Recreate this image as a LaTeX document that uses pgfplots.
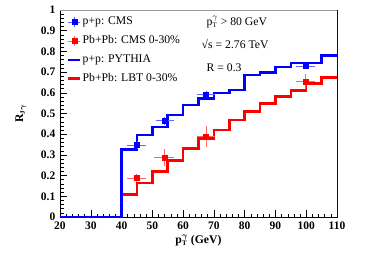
\documentclass[border=0pt]{standalone}
\usepackage{bm}
\usepackage{pgfplots}
\pgfplotsset{compat=1.18}
\usepackage{fontspec}
\setmainfont{Liberation Serif}
\definecolor{rblue}{RGB}{0,0,255}
\definecolor{rred}{RGB}{255,0,0}
\begin{document}
\begin{tikzpicture}
\begin{axis}[
  width=277pt, height=207pt, scale only axis,
  xmin=20, xmax=110, ymin=0, ymax=1,
  xtick={20,30,...,110}, ytick={0,0.1,...,1.0},
  minor x tick num=4, minor y tick num=4,
  tick align=inside, tick pos=left,
  major tick length=7pt, minor tick length=3.5pt,
  tick style={black, line width=0.5pt},
  axis line style={black, line width=0.7pt},
  /pgf/number format/assume math mode=true,
  /pgf/number format/fixed, /pgf/number format/precision=1,
  ticklabel style={font=\fontsize{11.5}{13}\selectfont\bfseries, inner sep=0.5pt},
  xticklabel style={yshift=-4.5pt},
  yticklabel style={xshift=-4pt},
  xlabel={\bfseries p$_{\mbox{\scriptsize\bfseries T}}^{\bm{\gamma}}$ (GeV)},
  ylabel={\bfseries R$_{\mbox{\scriptsize\bfseries J}\bm{\gamma}}$},
  label style={font=\fontsize{11.7}{13}\selectfont},
  xlabel style={at={(axis description cs:0.5,0)}, anchor=north, yshift=-14pt},
  ylabel style={at={(axis description cs:0,0.5)}, anchor=south, yshift=30pt},
  legend style={at={(axis cs:21.3,0.982)}, anchor=north west, draw=none, fill=none,
    font=\fontsize{11.7}{13}\selectfont, row sep=6.3pt,
    nodes={inner sep=1pt, anchor=west, text height=8pt, text depth=2.5pt}},
  legend cell align=left,
]
% legend
\addlegendimage{legend image code/.code={
  \draw[rblue!60, line width=0.6pt] (0pt,0pt)--(12pt,0pt) (6pt,-5pt)--(6pt,5pt);
  \fill[rblue] (3.5pt,-2.5pt) rectangle (8.5pt,2.5pt);}}
\addlegendentry{p+p: CMS}
\addlegendimage{legend image code/.code={
  \draw[rred!60, line width=0.6pt] (0pt,0pt)--(12pt,0pt) (6pt,-5pt)--(6pt,5pt);
  \fill[rred] (3.5pt,-2.5pt) rectangle (8.5pt,2.5pt);}}
\addlegendentry{Pb+Pb: CMS 0-30\%}
\addlegendimage{legend image code/.code={\draw[rblue, line width=2.5pt] (0pt,0pt)--(12pt,0pt);}}
\addlegendentry{p+p: PYTHIA}
\addlegendimage{legend image code/.code={\draw[rred, line width=2.5pt] (0pt,0pt)--(12pt,0pt);}}
\addlegendentry{Pb+Pb: LBT 0-30\%}

% LBT
\addplot[forget plot, rred, line width=2.5pt, const plot mark left] coordinates {
(20,0) (40,0.108) (45,0.165) (50,0.221) (55,0.272) (60,0.332) (65,0.380) (70,0.420)
(75,0.469) (80,0.509) (85,0.549) (90,0.581) (95,0.611) (100,0.646) (105,0.673) (110,0.673)};
% PYTHIA
\addplot[forget plot, rblue, line width=2.5pt, const plot mark left] coordinates {
(20,0) (40,0.325) (45,0.395) (50,0.435) (55,0.493) (60,0.541) (65,0.573) (70,0.598)
(75,0.614) (80,0.686) (85,0.699) (90,0.725) (95,0.743) (100,0.745) (105,0.780) (110,0.780)};

% CMS pp
\addplot[forget plot, only marks, mark=square*, mark size=2.5pt, color=rblue,
  error bars/.cd, x dir=both, x explicit, y dir=both, y explicit,
  error mark=none, error bar style={rblue!60, line width=0.6pt}] coordinates {
(45.0,0.347) +- (3.1,0.02)
(54.0,0.465) +- (2.9,0.02)
(67.5,0.593) +- (3.0,0.015)
(99.8,0.729) +- (3.0,0.015)};
% CMS PbPb
\addplot[forget plot, only marks, mark=square*, mark size=2.5pt, color=rred,
  error bars/.cd, x dir=both, x explicit, y dir=both, y explicit,
  error mark=none, error bar style={rred!60, line width=0.6pt}] coordinates {
(44.9,0.188) +- (3.2,0.02)
(53.9,0.287) +- (3.3,0.04)
(67.4,0.388) +- (3.0,0.05)
(99.8,0.654) +- (3.2,0.037)};

\draw[gray!80, line width=0.8pt] (rel axis cs:0,1) -- (rel axis cs:1,1) -- (rel axis cs:1,0);
\node[anchor=west, font=\fontsize{11.7}{13}\selectfont] at (axis cs:66.5,0.943) {p$_{\mbox{\scriptsize T}}^{\gamma}$ > 80 GeV};
\node[anchor=west, font=\fontsize{11.7}{13}\selectfont] at (axis cs:64.9,0.836) {√s = 2.76 TeV};
\node[anchor=west, font=\fontsize{11.7}{13}\selectfont] at (axis cs:66.5,0.722) {R = 0.3};
\end{axis}
\pgfresetboundingbox
\path ([shift={(-60pt,-45pt)}]current axis.south west) rectangle ([shift={(28pt,10pt)}]current axis.north east);
\end{tikzpicture}
\end{document}
